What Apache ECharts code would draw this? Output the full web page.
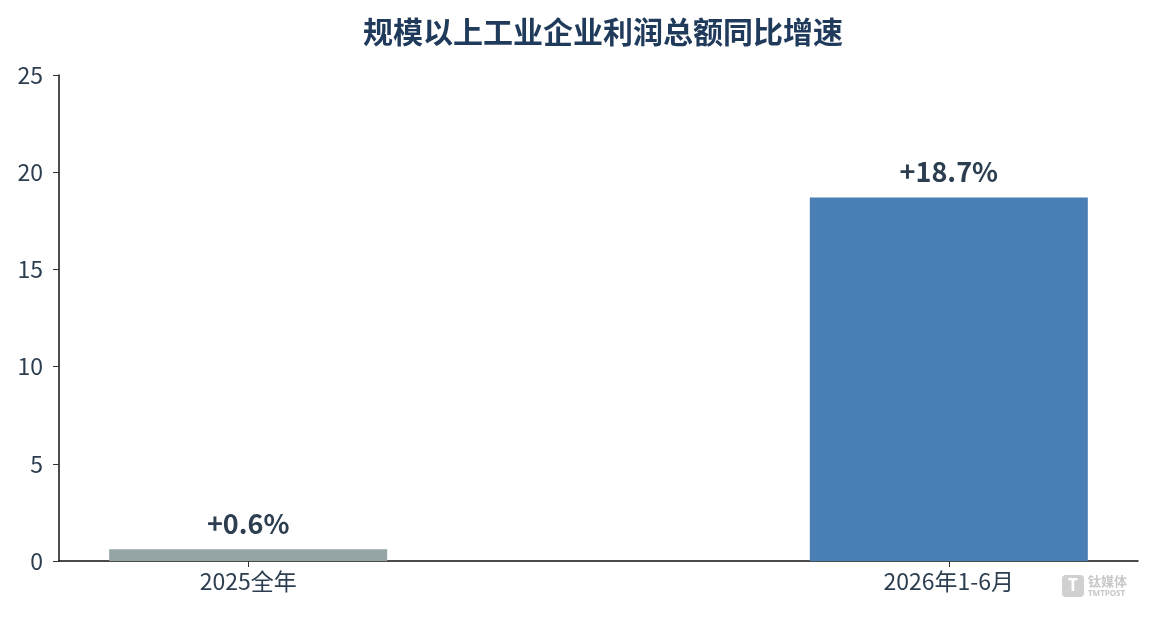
<!DOCTYPE html>
<html>
<head>
<meta charset="utf-8">
<script src="https://cdn.jsdelivr.net/npm/echarts@6/dist/echarts.min.js"></script>
<style>
html, body { margin: 0; padding: 0; background: #fff; }
#main { width: 1154px; height: 619px; }
</style>
</head>
<body>
<div id="main"></div>
<script>
var categories = ['2025全年', '2026年1-6月'];
var values = [0.6, 18.7];
var valueLabels = ['+0.6%', '+18.7%'];
var barColors = ['#95a5a6', '#4a7fb5'];
var yTicks = [0, 5, 10, 15, 20, 25];

var FONT = 'Noto Sans CJK SC';
var TEXT = '#2c3e50';

var chart = echarts.init(document.getElementById('main'));

var barData = [];
for (var i = 0; i < values.length; i++) {
	barData.push({
		value : [i, values[i]],
		itemStyle : { color : barColors[i] },
		label : { formatter : valueLabels[i] }
	});
}

var option = {
	backgroundColor : '#fff',
	title : {
		text : '规模以上工业企业利润总额同比增速',
		left : 598,
		top : 12,
		textAlign : 'center',
		textStyle : {
			fontFamily : FONT,
			fontSize : 30,
			fontWeight : 'bold',
			color : '#1f3a5a'
		}
	},
	grid : {
		left : 59,
		right : 16,
		top : 75,
		bottom : 58
	},
	xAxis : {
		type : 'value',
		min : -0.27,
		max : 1.27,
		splitLine : { show : false },
		axisLine : { show : true, onZero : false, lineStyle : { color : '#111', width : 1.5 } },
		axisTick : {
			show : true,
			customValues : [0, 1],
			length : 6,
			lineStyle : { color : '#333' }
		},
		axisLabel : {
			customValues : [0, 1],
			formatter : function(v) { return categories[Math.round(v)]; },
			fontFamily : FONT,
			fontSize : 23,
			color : TEXT,
			margin : 9
		}
	},
	yAxis : {
		type : 'value',
		min : yTicks[0],
		max : yTicks[yTicks.length - 1],
		interval : 5,
		splitLine : { show : false },
		axisLine : { show : true, onZero : false, lineStyle : { color : '#111', width : 1.5 } },
		axisTick : { show : true, length : 6, lineStyle : { color : '#333' } },
		axisLabel : {
			fontFamily : FONT,
			fontSize : 23,
			color : TEXT,
			margin : 16
		}
	},
	series : [ {
		type : 'bar',
		barWidth : 278,
		data : barData,
		label : {
			show : true,
			position : 'top',
			distance : 12,
			fontFamily : FONT,
			fontSize : 27,
			fontWeight : 'bold',
			color : TEXT
		}
	} ],
	graphic : [ {
		type : 'group',
		left : 1062,
		top : 575,
		children : [ {
			type : 'rect',
			shape : { x : 0, y : 0, width : 22, height : 22, r : 4 },
			style : { fill : '#d0d0d0' }
		}, {
			type : 'text',
			style : { x : 11, y : 11, text : 'T', fill : '#fff', font : 'bold 17px "Noto Sans"', align : 'center', verticalAlign : 'middle' }
		}, {
			type : 'text',
			style : { x : 26, y : 0, text : '钛媒体', fill : '#c8c8c8', font : 'bold 13px "Noto Sans CJK SC"' }
		}, {
			type : 'text',
			style : { x : 26, y : 15, text : 'TMTPOST', fill : '#c8c8c8', font : 'bold 8px "Noto Sans"' }
		} ]
	} ]
};
chart.setOption(option);
</script>
</body>
</html>
